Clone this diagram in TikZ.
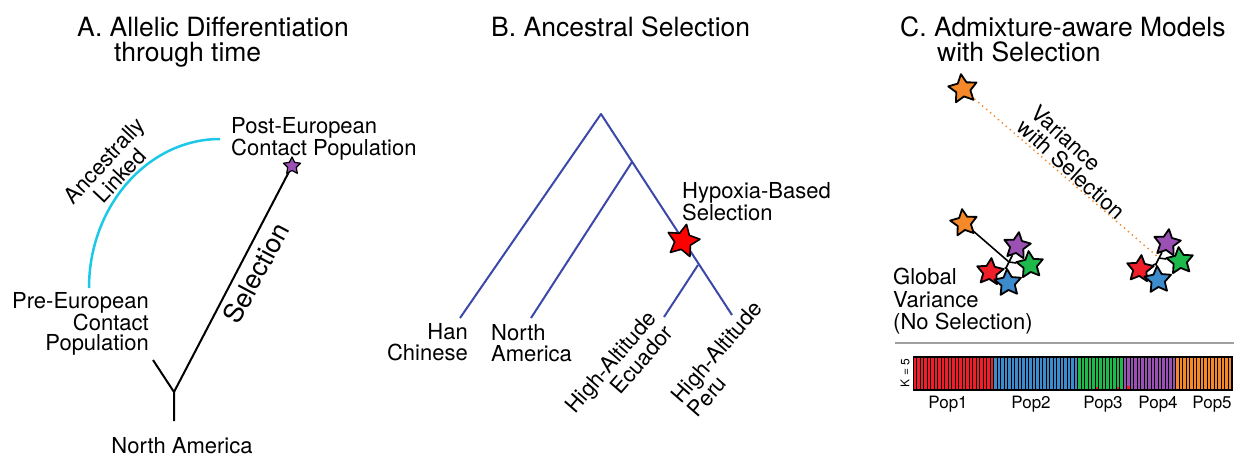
\documentclass[tikz,border=0pt]{standalone}
\usepackage{fontspec}
\setmainfont{TeX Gyre Heros}
\usetikzlibrary{shapes.geometric}
\definecolor{cyanA}{RGB}{28,200,232}
\definecolor{blueB}{RGB}{60,72,168}
\definecolor{sRed}{RGB}{240,30,40}
\definecolor{sBlue}{RGB}{60,140,205}
\definecolor{sGreen}{RGB}{30,185,75}
\definecolor{sPurple}{RGB}{155,80,180}
\definecolor{sOrange}{RGB}{245,137,42}
\begin{document}
\begin{tikzpicture}[x=1pt,y=-1pt,
  title/.style={font=\fontsize{26.5}{25}\selectfont, inner sep=0pt},
  lab/.style={font=\fontsize{22}{21}\selectfont, inner sep=0pt},
  poplab/.style={font=\fontsize{17}{17}\selectfont, inner sep=0pt, anchor=base},
  starnode/.style={star, star points=5, star point ratio=2.0, draw=black, line width=1.8pt, line join=round, inner sep=0pt, minimum size=#1},
  starnode/.default=28pt,
  treeA/.style={black, line width=2pt},
  treeB/.style={blueB, line width=2pt},
  hub/.style={black, line width=1.6pt}]
\useasboundingbox (0,0) rectangle (1234,453);

% ---------- titles
\node[title, anchor=base west] (tA1) at (77,36) {A. Allelic Differentiation};
\node[title, anchor=base west] (tA2) at (114,61) {through time};
\node[title, anchor=base west] (tB) at (491,36) {B. Ancestral Selection};
\node[title, anchor=base west] (tC1) at (900,36) {C. Admixture-aware Models};
\node[title, anchor=base west] (tC2) at (937,61) {with Selection};

% ---------- panel A
\coordinate (arcS) at (89,288);
\coordinate (arcE) at (220,139);
\draw[cyanA, line width=2.5pt] (arcS) .. controls (89,206) and (148,139) .. (arcE);
\node[lab, anchor=north west, align=left] (post) at (231,117) {Post-European\\Contact Population};
\node[lab, anchor=north east, align=right, font=\fontsize{22}{20.5}\selectfont] (pre) at (149,292) {Pre-European\\Contact\\Population};
\node[lab, rotate=47, align=center, font=\fontsize{22}{19}\selectfont] (anc) at (112,168) {Ancestrally\\Linked};
\coordinate (sAc) at (292,166);
\coordinate (forkA) at (174,392);
\coordinate (leftA) at (153,360);
\coordinate (rootA) at (174,421);
\draw[treeA] (sAc) -- (forkA) -- (rootA);
\draw[treeA] (forkA) -- (leftA);
\node[starnode=18pt, fill=sPurple, line width=1.2pt] (sA) at (sAc) {};
\node[lab, rotate=62, font=\fontsize{26.5}{25}\selectfont] (sel) at (256,273) {Selection};
\node[lab, anchor=north] (naA) at (182,437) {North America};

% ---------- panel B
\coordinate (rootB) at (601,114);
\coordinate (hanT) at (460,318);
\coordinate (peruT) at (732,315);
\coordinate (naN) at (632,162);
\coordinate (naT) at (531,318);
\coordinate (ecN) at (698,265);
\coordinate (ecT) at (664,317);
\draw[treeB, line join=round] (hanT) -- (rootB) -- (peruT);
\draw[treeB] (naN) -- (naT);
\draw[treeB] (ecN) -- (ecT);
\node[starnode=34pt, fill=red, line width=1.6pt, rotate=-12] (sB) at (683,241) {};
\node[lab, anchor=north west, align=left, font=\fontsize{22}{20}\selectfont] (hyp) at (682,182) {Hypoxia-Based\\Selection};
\node[lab, anchor=north east, align=right] (han) at (468,323) {Han\\Chinese};
\node[lab, anchor=north west, align=left] (naB) at (491,324) {North\\America};
\node[lab, rotate=49, align=right, font=\fontsize{22}{19}\selectfont] (ecu) at (619,369) {High-Altitude\\Ecuador};
\node[lab, rotate=49, align=left, font=\fontsize{22}{19}\selectfont] (per) at (725,359) {High-Altitude\\Peru};

% ---------- panel C
\coordinate (h1L) at (1009,262);
\coordinate (h2L) at (1006,268);
\coordinate (h1R) at (1159,258);
\coordinate (h2R) at (1156,264);
\coordinate (oLc) at (964,223);
\coordinate (oTc) at (963,89);
\draw[hub] (oLc) -- (h1L);
\draw[hub] (h1L) -- (h2L);
\draw[hub] (h1R) -- (h2R);
\draw[sOrange, line width=2pt, line cap=round, dash pattern=on 0pt off 5.2pt] (oTc) -- (h1R);
% left cluster
\node[starnode=28pt, fill=sOrange, rotate=8] (oL) at (oLc) {};
\node[starnode, fill=sPurple, rotate=-8] (pL) at (1017,246) {};
\node[starnode, fill=sGreen, rotate=6] (gL) at (1030,265) {};
\node[starnode, fill=sRed, rotate=-6] (rL) at (990,272) {};
\node[starnode, fill=sBlue, rotate=4] (bL) at (1008,283) {};
\draw[hub] (h1L) -- (pL); \draw[hub] (h1L) -- (gL);
\draw[hub] (h2L) -- (rL); \draw[hub] (h2L) -- (bL);
% right cluster
\node[starnode=30pt, fill=sOrange, rotate=8] (oT) at (oTc) {};
\node[starnode, fill=sPurple, rotate=-8] (pR) at (1167,243) {};
\node[starnode, fill=sGreen, rotate=6] (gR) at (1180,261) {};
\node[starnode, fill=sRed, rotate=-6] (rR) at (1140,269) {};
\node[starnode, fill=sBlue, rotate=4] (bR) at (1158,280) {};
\draw[hub] (h1R) -- (pR); \draw[hub] (h1R) -- (gR);
\draw[hub] (h2R) -- (rR); \draw[hub] (h2R) -- (bR);

\node[lab, rotate=-42, align=left, font=\fontsize{22}{20}\selectfont] (var) at (1078,162) {Variance\\with Selection};
\node[lab, anchor=north west, align=left, font=\fontsize{22}{22.5}\selectfont] (glob) at (893,268) {Global\\Variance\\(No Selection)};

% separator
\coordinate (sepL) at (895,343);
\coordinate (sepR) at (1234,343);
\draw[gray!75, line width=1.5pt] (sepL) -- (sepR);

% structure bar plot
\fill[black] (913,356) rectangle (1233,391);
\foreach \i in {0,...,22} \fill[sRed] ({913.8+\i*3.5},357.5) rectangle ++(2.4,31.5);
\foreach \i in {23,...,46} \fill[sBlue] ({913.8+\i*3.5},357.5) rectangle ++(2.4,31.5);
\foreach \i in {47,...,59} \fill[sGreen] ({913.8+\i*3.5},357.5) rectangle ++(2.4,31.5);
\foreach \i in {60,...,74} \fill[sPurple] ({913.8+\i*3.5},357.5) rectangle ++(2.4,31.5);
\foreach \i in {75,...,90} \fill[sOrange] ({913.8+\i*3.5},357.5) rectangle ++(2.4,31.5);
\fill[sRed] ({913.8+52*3.5},386.5) rectangle ++(2.4,2.5);
\fill[sRed] ({913.8+58*3.5},386.5) rectangle ++(2.4,2.5);
\fill[sRed] ({913.8+61*3.5},385.5) rectangle ++(2.4,3.5);
\node[font=\fontsize{12}{12}\selectfont, inner sep=0pt, rotate=90] (kk) at (905,373) {K = 5};
\node[poplab] (p1) at (948,408) {Pop1};
\node[poplab] (p2) at (1031,408) {Pop2};
\node[poplab] (p3) at (1103,408) {Pop3};
\node[poplab] (p4) at (1158,408) {Pop4};
\node[poplab] (p5) at (1212,408) {Pop5};
\end{tikzpicture}
\end{document}
